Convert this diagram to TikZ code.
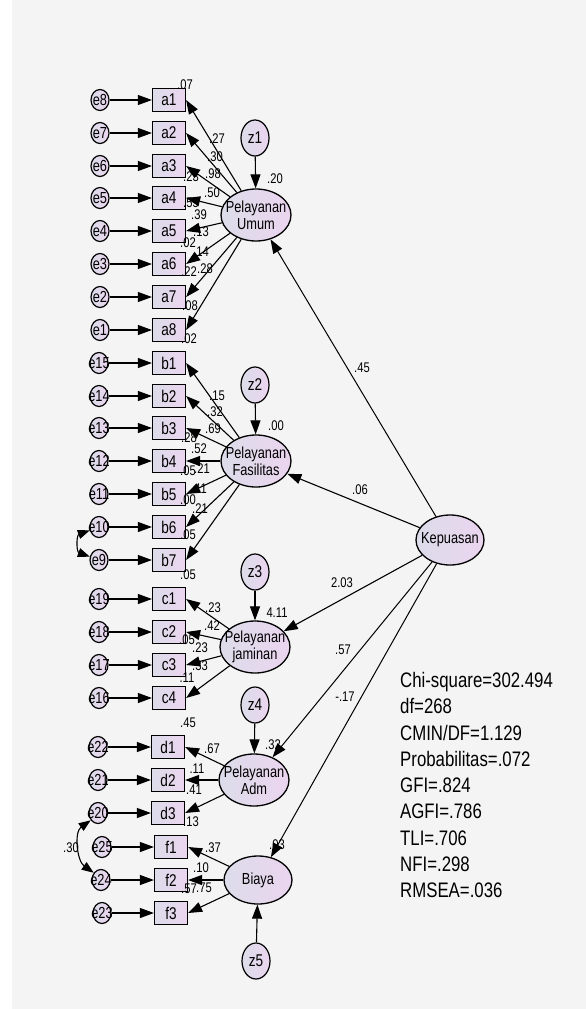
\documentclass[tikz,border=0pt]{standalone}
\usepackage{fontspec}
\setmainfont[FakeStretch=0.8]{Liberation Sans}
\usepackage{tikz}
\usetikzlibrary{positioning}
\usetikzlibrary{arrows.meta}
\usetikzlibrary{shapes.geometric}
\definecolor{bggray}{HTML}{F4F4F4}
\definecolor{lavleft}{HTML}{DCDCEA}
\definecolor{lavright}{HTML}{EBD5EF}
\tikzset{
  obsbox/.style={draw, line width=1.2pt, rectangle, minimum width=33pt, minimum height=23pt, inner sep=0pt,
    left color=lavleft, right color=lavright, font=\fontsize{17}{17}\selectfont},
  errvar/.style={draw, line width=1.2pt, ellipse, minimum width=18pt, minimum height=21pt, inner sep=0pt,
    left color=lavleft, right color=lavright, label={[font=\fontsize{16}{16}\selectfont, inner sep=0pt]center:#1}},
  distvar/.style={draw, line width=1.2pt, ellipse, minimum width=28pt, minimum height=36pt, inner sep=0pt,
    left color=lavleft, right color=lavright, font=\fontsize{17}{17}\selectfont},
  latvar/.style={draw, line width=1.3pt, ellipse, minimum width=70pt, minimum height=52pt, inner sep=0pt,
    left color=lavleft, right color=lavright,
    label={[font=\fontsize{16}{17}\selectfont, align=center, inner sep=0pt]center:#1}},
  path/.style={-{Triangle[length=14pt,width=10pt]}, line width=1.1pt},
  covpath/.style={{Triangle[length=12pt,width=9pt]}-{Triangle[length=12pt,width=9pt]}, line width=1.1pt},
  est/.style={font=\fontsize{14}{14}\selectfont, inner sep=0pt}
}
\begin{document}
\begin{tikzpicture}[x=1pt, y=-1pt]
\useasboundingbox (0,0) rectangle (586,1009);
\fill[bggray] (12,0) rectangle (586,1009);
% -- latent variables --
\node[latvar={Pelayanan\\Umum}] (umum) at (256,215) {};
\node[latvar={Pelayanan\\Fasilitas}] (fasil) at (256,461) {};
\node[latvar={Pelayanan\\jaminan}] (jamin) at (255,647) {};
\node[latvar={Pelayanan\\Adm}] (adm) at (254,780) {};
\node[latvar={Biaya}, minimum width=68pt, minimum height=48pt] (biaya) at (258,880) {};
\node[latvar={Kepuasan}, minimum width=68pt, minimum height=50pt] (kep) at (450,540) {};
% -- disturbances --
\node[distvar] (z1) at (255,138) {z1};
\node[distvar] (z2) at (255,385) {z2};
\node[distvar] (z3) at (255,572) {z3};
\node[distvar] (z4) at (255,705) {z4};
\node[distvar] (z5) at (256,961) {z5};
% -- indicators a --
\node[obsbox] (a1) at (169,100) {a1};
\node[obsbox] (a2) at (169,133) {a2};
\node[obsbox] (a3) at (169,166) {a3};
\node[obsbox] (a4) at (169,198) {a4};
\node[obsbox] (a5) at (169,231) {a5};
\node[obsbox] (a6) at (169,264) {a6};
\node[obsbox] (a7) at (169,297) {a7};
\node[obsbox] (a8) at (169,330) {a8};
% -- indicators b --
\node[obsbox] (b1) at (169,363) {b1};
\node[obsbox] (b2) at (169,396) {b2};
\node[obsbox] (b3) at (169,428) {b3};
\node[obsbox] (b4) at (169,461) {b4};
\node[obsbox] (b5) at (169,494) {b5};
\node[obsbox] (b6) at (169,527) {b6};
\node[obsbox] (b7) at (169,560) {b7};
% -- indicators c --
\node[obsbox] (c1) at (169,599) {c1};
\node[obsbox] (c2) at (169,632) {c2};
\node[obsbox] (c3) at (169,665) {c3};
\node[obsbox] (c4) at (169,698) {c4};
% -- indicators d and f --
\node[obsbox] (d1) at (168,747) {d1};
\node[obsbox] (d2) at (168,780) {d2};
\node[obsbox] (d3) at (168,813) {d3};
\node[obsbox] (f1) at (171,847) {f1};
\node[obsbox] (f2) at (171,880) {f2};
\node[obsbox] (f3) at (171,913) {f3};
% -- errors --
\node[errvar=e8] (e8) at (100,100) {};
\node[errvar=e7] (e7) at (100,133) {};
\node[errvar=e6] (e6) at (100,166) {};
\node[errvar=e5] (e5) at (100,198) {};
\node[errvar=e4] (e4) at (100,231) {};
\node[errvar=e3] (e3) at (100,264) {};
\node[errvar=e2] (e2) at (100,297) {};
\node[errvar=e1] (e1) at (100,330) {};
\node[errvar=e15] (e15) at (99,363) {};
\node[errvar=e14] (e14) at (99,396) {};
\node[errvar=e13] (e13) at (99,428) {};
\node[errvar=e12] (e12) at (99,461) {};
\node[errvar=e11] (e11) at (99,494) {};
\node[errvar=e10] (e10) at (99,527) {};
\node[errvar=e9] (e9) at (99,560) {};
\node[errvar=e19] (e19) at (99,599) {};
\node[errvar=e18] (e18) at (99,632) {};
\node[errvar=e17] (e17) at (99,665) {};
\node[errvar=e16] (e16) at (99,698) {};
\node[errvar=e22] (e22) at (98,747) {};
\node[errvar=e21] (e21) at (98,780) {};
\node[errvar=e20] (e20) at (98,813) {};
\node[errvar=e25] (e25) at (102,847) {};
\node[errvar=e24] (e24) at (101,880) {};
\node[errvar=e23] (e23) at (102,913) {};
% -- error paths --
\draw[path] (e8) -- (a1);
\draw[path] (e7) -- (a2);
\draw[path] (e6) -- (a3);
\draw[path] (e5) -- (a4);
\draw[path] (e4) -- (a5);
\draw[path] (e3) -- (a6);
\draw[path] (e2) -- (a7);
\draw[path] (e1) -- (a8);
\draw[path] (e15) -- (b1);
\draw[path] (e14) -- (b2);
\draw[path] (e13) -- (b3);
\draw[path] (e12) -- (b4);
\draw[path] (e11) -- (b5);
\draw[path] (e10) -- (b6);
\draw[path] (e9) -- (b7);
\draw[path] (e19) -- (c1);
\draw[path] (e18) -- (c2);
\draw[path] (e17) -- (c3);
\draw[path] (e16) -- (c4);
\draw[path] (e22) -- (d1);
\draw[path] (e21) -- (d2);
\draw[path] (e20) -- (d3);
\draw[path] (e25) -- (f1);
\draw[path] (e24) -- (f2);
\draw[path] (e23) -- (f3);
% -- covariances --
\draw[covpath] (e10.200) to[out=200, in=160, looseness=1.4] (e9.160);
\draw[covpath] (e20.225) to[out=215, in=145] (e24.135);
% -- loadings --
\draw[path] (umum) -- (a1.east);
\draw[path] (umum) -- (a2.east);
\draw[path] (umum) -- (a3.east);
\draw[path] (umum) -- (a4.east);
\draw[path] (umum) -- (a5.east);
\draw[path] (umum) -- (a6.east);
\draw[path] (umum) -- (a7.east);
\draw[path] (umum) -- (a8.east);
\draw[path] (fasil) -- (b1.east);
\draw[path] (fasil) -- (b2.east);
\draw[path] (fasil) -- (b3.east);
\draw[path] (fasil) -- (b4.east);
\draw[path] (fasil) -- (b5.east);
\draw[path] (fasil) -- (b6.east);
\draw[path] (fasil) -- (b7.east);
\draw[path] (jamin) -- (c1.east);
\draw[path] (jamin) -- (c2.east);
\draw[path] (jamin) -- (c3.east);
\draw[path] (jamin) -- (c4.east);
\draw[path] (adm) -- (d1.east);
\draw[path] (adm) -- (d2.east);
\draw[path] (adm) -- (d3.east);
\draw[path] (biaya) -- (f1.east);
\draw[path] (biaya) -- (f2.east);
\draw[path] (biaya) -- (f3.east);
% -- structural paths --
\draw[path] (z1) -- (umum);
\draw[path] (z2) -- (fasil);
\draw[path] (z3) -- (jamin);
\draw[path] (z4) -- (adm);
\draw[path] (z5) -- (biaya);
\draw[path, line width=1pt] (kep) -- (umum);
\draw[path] (kep) -- (fasil);
\draw[path] (kep) -- (jamin);
\draw[path, line width=1pt] (kep) -- (adm);
\draw[path, line width=1pt] (kep) -- (biaya);
% -- estimates a --
\node[est] (la1) at (185,85) {.07};
\node[est] (la2) at (217,139) {.27};
\node[est] (la3) at (215,157) {.30};
\node[est] (la4) at (213,174) {.98};
\node[est] (la5) at (191,177) {.23};
\node[est] (la6) at (212,193) {.50};
\node[est] (la7) at (191,203) {.55};
\node[est] (la8) at (199,215) {.39};
\node[est] (la9) at (201,232) {.13};
\node[est] (la10) at (188,243) {.02};
\node[est] (la11) at (201,252) {.14};
\node[est] (la12) at (189,272) {.22};
\node[est] (la13) at (205,269) {.28};
\node[est] (la14) at (190,306) {.08};
\node[est] (la15) at (189,339) {.02};
% -- estimates b --
\node[est] (lb1) at (217,396) {.15};
\node[est] (lb2) at (215,412) {.32};
\node[est] (lb3) at (213,429) {.69};
\node[est] (lb4) at (189,438) {.28};
\node[est] (lb5) at (199,449) {.52};
\node[est] (lb6) at (188,471) {.05};
\node[est] (lb7) at (202,469) {.21};
\node[est] (lb8) at (199,489) {.41};
\node[est] (lb9) at (188,500) {.00};
\node[est] (lb10) at (200,509) {.21};
\node[est] (lb11) at (188,535) {.05};
\node[est] (lb12) at (188,575) {.05};
% -- estimates c --
\node[est] (lc1) at (213,608) {.23};
\node[est] (lc2) at (212,626) {.42};
\node[est] (lc3) at (187,640) {.05};
\node[est] (lc4) at (200,648) {.23};
\node[est] (lc5) at (200,666) {.33};
\node[est] (lc6) at (187,678) {.11};
% -- estimates d and f --
\node[est] (ld1) at (188,723) {.45};
\node[est] (ld2) at (212,749) {.67};
\node[est] (ld3) at (197,769) {.11};
\node[est] (ld4) at (194,790) {.41};
\node[est] (ld5) at (191,822) {.13};
\node[est] (lf1) at (213,848) {.37};
\node[est] (lf2) at (201,868) {.10};
\node[est] (lf3) at (189,889) {.57};
\node[est] (lf4) at (204,888) {.75};
\node[est] (lcov) at (71,848) {.30};
% -- estimates structural --
\node[est] (lz1) at (275,179) {.20};
\node[est] (lz2) at (276,426) {.00};
\node[est] (lz3) at (277,613) {4.11};
\node[est] (lz4) at (273,745) {.32};
\node[est] (lz5) at (277,845) {.03};
\node[est] (lk1) at (362,368) {.45};
\node[est] (lk2) at (360,490) {.06};
\node[est] (lk3) at (342,583) {2.03};
\node[est] (lk4) at (343,650) {.57};
\node[est] (lk5) at (345,697) {-.17};
% -- fit indices --
\node[anchor=north west, align=left, inner sep=0pt, font=\fontsize{21}{26.3}\selectfont] (fit) at (400,672)
  {Chi-square=302.494\\df=268\\CMIN/DF=1.129\\Probabilitas=.072\\GFI=.824\\AGFI=.786\\TLI=.706\\NFI=.298\\RMSEA=.036};
\end{tikzpicture}
\end{document}
